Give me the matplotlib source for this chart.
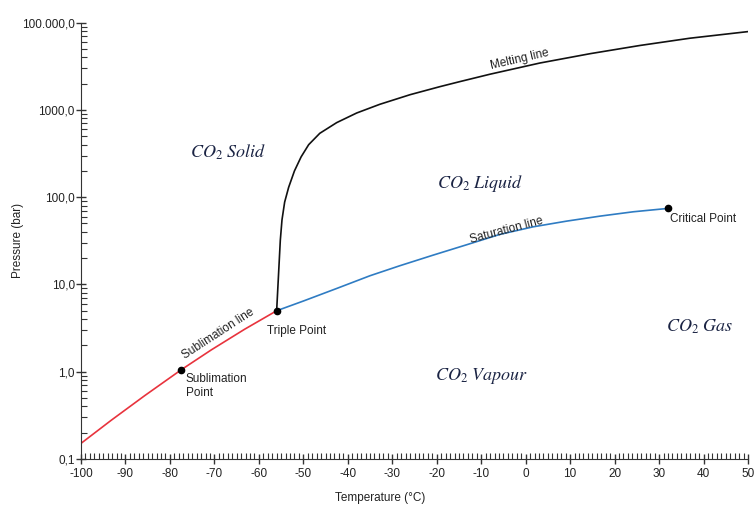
import numpy as np
import matplotlib
matplotlib.use("Agg")
import matplotlib.pyplot as plt
from matplotlib.ticker import MultipleLocator, LogLocator, NullFormatter

# phase boundaries of CO2
subl_T = [-100.0, -93.2, -85.7, -77.5, -70.7, -63.2, -56.0]
subl_p = [0.151, 0.278, 0.531, 1.05, 1.78, 3.07, 5.0]

sat_T = [-56.0, -50.0, -42.5, -35.0, -28.3, -20.8, -13.3, -5.8, 1.7, 9.2, 16.7, 24.2, 32.1]
sat_p = [5.0, 6.46, 9.0, 12.6, 16.4, 21.7, 28.5, 37.5, 45.8, 53.2, 60.7, 68.1, 74.5]

melt_T = [-56.0, -55.41, -55.18, -54.8, -54.2, -53.3, -52.0, -50.5, -48.8, -46.3,
          -42.5, -38.0, -32.8, -26.0, -19.3, -14.8, -8.0, 3.2, 14.5, 25.7, 36.9, 50.0]
melt_p = [5.0, 19, 32, 55, 88, 130, 200, 290, 400, 540,
          716, 923, 1161, 1496, 1849, 2113, 2570, 3451, 4416, 5483, 6637, 7907]

points_T = [-77.5, -56.0, 32.1]
points_p = [1.05, 5.0, 74.5]

y_ticks = [0.1, 1, 10, 100, 1000, 10000]
y_labels = ["0,1", "1,0", "10,0", "100,0", "1000,0", "100.000,0"]
x_ticks = list(range(-100, 51, 10))
x_labels = [str(v) for v in x_ticks]

plt.rcParams['font.family'] = ['Liberation Sans', 'DejaVu Sans']
plt.rcParams['mathtext.fontset'] = 'stix'

fig = plt.figure(figsize=(7.56, 5.07), dpi=100)
ax = fig.add_axes([81/756, 1-459/507, 667/756, (459-22.7)/507])

ax.plot(subl_T, subl_p, color='#e8333d', lw=1.2, solid_joinstyle='round')
ax.plot(sat_T, sat_p, color='#2f7cc3', lw=1.2, solid_joinstyle='round')
ax.plot(melt_T, melt_p, color='#111111', lw=1.2, solid_joinstyle='round')
ax.plot(points_T, points_p, 'o', color='black', ms=4.5, zorder=5)

ax.set_yscale('log')
ax.set_xlim(-100, 50)
ax.set_ylim(0.1, 10000)
ax.spines['top'].set_visible(False)
ax.spines['right'].set_visible(False)
ax.spines['left'].set_color('#333333')
ax.spines['bottom'].set_color('#333333')

ax.set_yticks(y_ticks)
ax.set_yticklabels(y_labels)
ax.yaxis.set_minor_locator(LogLocator(base=10, subs=np.arange(2, 10)))
ax.yaxis.set_minor_formatter(NullFormatter())
ax.set_xticks(x_ticks)
ax.set_xticklabels(x_labels)
ax.xaxis.set_minor_locator(MultipleLocator(1))

ax.tick_params(axis='both', which='major', direction='inout', length=7, width=1,
               color='#333333', labelsize=8.5, labelcolor='#222222')
ax.tick_params(axis='y', which='major', pad=1)
ax.tick_params(axis='x', which='major', pad=3)
ax.tick_params(axis='both', which='minor', direction='in', length=4, width=0.8,
               color='#333333')

ax.set_xlabel("Temperature (°C)", fontsize=8.5, color='#222222')
ax.xaxis.set_label_coords(0.448, -0.075)
ax.set_ylabel("Pressure (bar)", fontsize=8.5, color='#222222')
ax.yaxis.set_label_coords(-0.085, 0.5)

# region names
region = dict(fontsize=13, color='#1b2444', ha='center', va='center')
ax.text(-66.9, 329, r"$CO_2\ Solid$", **region)
ax.text(-10.3, 145, r"$CO_2\ Liquid$", **region)
ax.text(-10.0, 0.89, r"$CO_2\ Vapour$", **region)
ax.text(39.2, 3.25, r"$CO_2\ Gas$", **region)

# line and point notes
note = dict(fontsize=8.5, color='#222222')
ax.text(-69.2, 2.70, "Sublimation line", rotation=33, ha='center', va='center', **note)
ax.text(-4.2, 42, "Saturation line", rotation=15, ha='center', va='center', **note)
ax.text(-1.3, 3820, "Melting line", rotation=13, ha='center', va='center', **note)
ax.text(-58.2, 2.92, "Triple Point", ha='left', va='center', **note)
ax.text(-76.4, 0.966, "Sublimation\nPoint", ha='left', va='top', **note)
ax.text(32.45, 56, "Critical Point", ha='left', va='center', **note)

fig.savefig("out.png", dpi=100)
